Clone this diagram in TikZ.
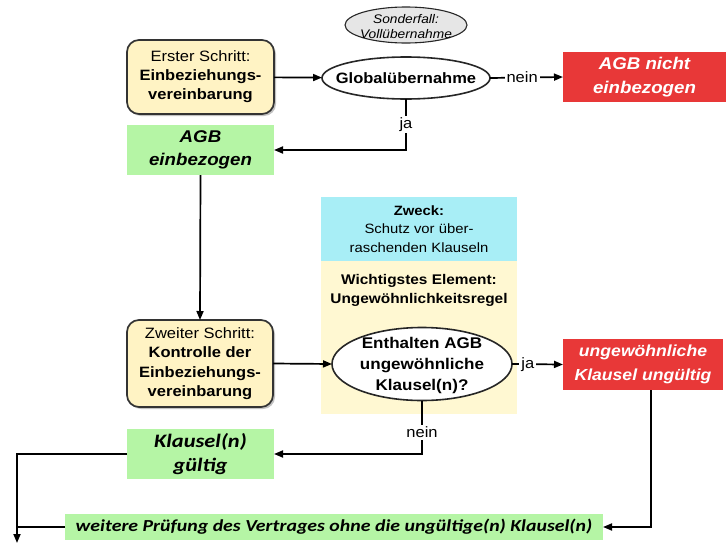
\documentclass[tikz,border=0pt]{standalone}
\usepackage{fontspec}
\setmainfont{Liberation Sans}[FakeStretch=1.1]
\newfontfamily\calfont{Carlito}[FakeStretch=1.18]
\usetikzlibrary{shapes.geometric,arrows.meta,shadows}
\definecolor{ylw}{HTML}{FFF3C4}
\definecolor{ylwbg}{HTML}{FFF8D2}
\definecolor{grn}{HTML}{B5F5A5}
\definecolor{cyn}{HTML}{A8EEF6}
\definecolor{rd}{HTML}{E83838}
\definecolor{gry}{HTML}{E6E6E6}
\begin{document}
\begin{tikzpicture}[x=1pt,y=-1pt,
  every node/.style={inner sep=0pt, outer sep=0pt, align=center},
  rbox/.style={draw=black!80, line width=1.7pt, rounded corners=12pt, fill=ylw,
    drop shadow={shadow xshift=2pt, shadow yshift=-2pt, fill=black!40, opacity=0.6}},
  gbox/.style={rectangle, fill=grn},
  redbox/.style={rectangle, fill=rd, text=white, font=\fontsize{17}{24}\selectfont\bfseries\itshape},
  ell/.style={ellipse, draw=black!85, line width=1.6pt, fill=white},
  ln/.style={line width=1.7pt},
  arr/.style={line width=1.7pt, -{Triangle[length=9pt,width=7pt]}},
  lab/.style={fill=white, inner sep=2pt, font=\fontsize{15}{17}\selectfont}
]
\useasboundingbox (0,0) rectangle (726,544);

% background regions
\node[rectangle, fill=cyn, minimum width=196pt, minimum height=64pt,
  font=\fontsize{13.5}{18.5}\selectfont] (zweck) at (419,229)
  {\textbf{Zweck:}\\Schutz vor über-\\raschenden Klauseln};
\node[rectangle, fill=ylwbg, minimum width=196pt, minimum height=153pt] (ybg) at (419,337.5) {};
\node[font=\fontsize{14}{19}\selectfont\bfseries] (wicht) at (419,290)
  {Wichtigstes Element:\\Ungewöhnlichkeitsregel};

% top row
\node[rbox, minimum width=147pt, minimum height=74pt, font=\fontsize{15}{19}\selectfont] (b1) at (200.5,77)
  {Erster Schritt:\\\textbf{Einbeziehungs-}\\\textbf{vereinbarung}};
\node[ell, fill=gry, line width=1.1pt, minimum width=122pt, minimum height=36pt] (sond) at (406,25) {};
\node[font=\fontsize{12.5}{15}\selectfont\itshape] (sondt) at (406,27) {Sonderfall:\\Vollübernahme};
\node[ell, minimum width=168pt, minimum height=42pt] (glob) at (406,78) {};
\node[font=\fontsize{15}{18}\selectfont\bfseries] (globt) at (406,78) {Globalübernahme};
\node[redbox, minimum width=163pt, minimum height=50pt] (red1) at (644.5,77) {AGB nicht\\einbezogen};
\node[gbox, minimum width=147pt, minimum height=50pt, font=\fontsize{17}{23}\selectfont\bfseries\itshape] (agb) at (200.5,150)
  {AGB\\einbezogen};

% middle row
\node[rbox, minimum width=146pt, minimum height=87pt, font=\fontsize{15}{19.5}\selectfont] (b2) at (200,363.5)
  {Zweiter Schritt:\\\textbf{Kontrolle der}\\\textbf{Einbeziehungs-}\\\textbf{vereinbarung}};
\node[ell, minimum width=180pt, minimum height=73pt] (encl) at (422,364) {};
\node[font=\fontsize{15.5}{21}\selectfont\bfseries] (enclt) at (422,365)
  {Enthalten AGB\\ungewöhnliche\\Klausel(n)?};
\node[redbox, minimum width=160pt, minimum height=51pt, font=\fontsize{16}{24}\selectfont\bfseries\itshape] (red2) at (643,364.5)
  {ungewöhnliche\\Klausel ungültig};

% bottom
\node[gbox, minimum width=147pt, minimum height=50pt, font=\calfont\fontsize{19}{24}\selectfont\bfseries\itshape] (klg) at (200.5,454)
  {Klausel(n)\\gültig};
\node[gbox, minimum width=538pt, minimum height=26pt, font=\calfont\fontsize{16.8}{20}\selectfont\bfseries\itshape] (weit) at (334,527)
  {weitere Prüfung des Vertrages ohne die ungültige(n) Klausel(n)};
\coordinate (out) at (17,543);

% connectors
\draw[arr] (b1) -- (glob);
\draw[arr] (glob.east) -- node[lab, pos=0.44] (n1) {nein} (red1.west);
\draw[arr] (glob.south) |- node[lab, pos=0.25] (j1) {ja} (agb.east);
\draw[arr] (agb.south) -- (b2.north);
\draw[arr] (b2.east) -- (encl.west);
\draw[arr] (encl.east) -- node[lab, pos=0.31] (j2) {ja} (red2.west);
\draw[arr] (encl.south) |- node[lab, pos=0.3] (n2) {nein} (klg.east);
\draw[arr] ([xshift=8pt]red2.south) |- (weit.east);
\draw[arr] (klg.west) -| (out);
\draw[ln] (weit.west) -- (weit.west -| out);
\end{tikzpicture}
\end{document}
